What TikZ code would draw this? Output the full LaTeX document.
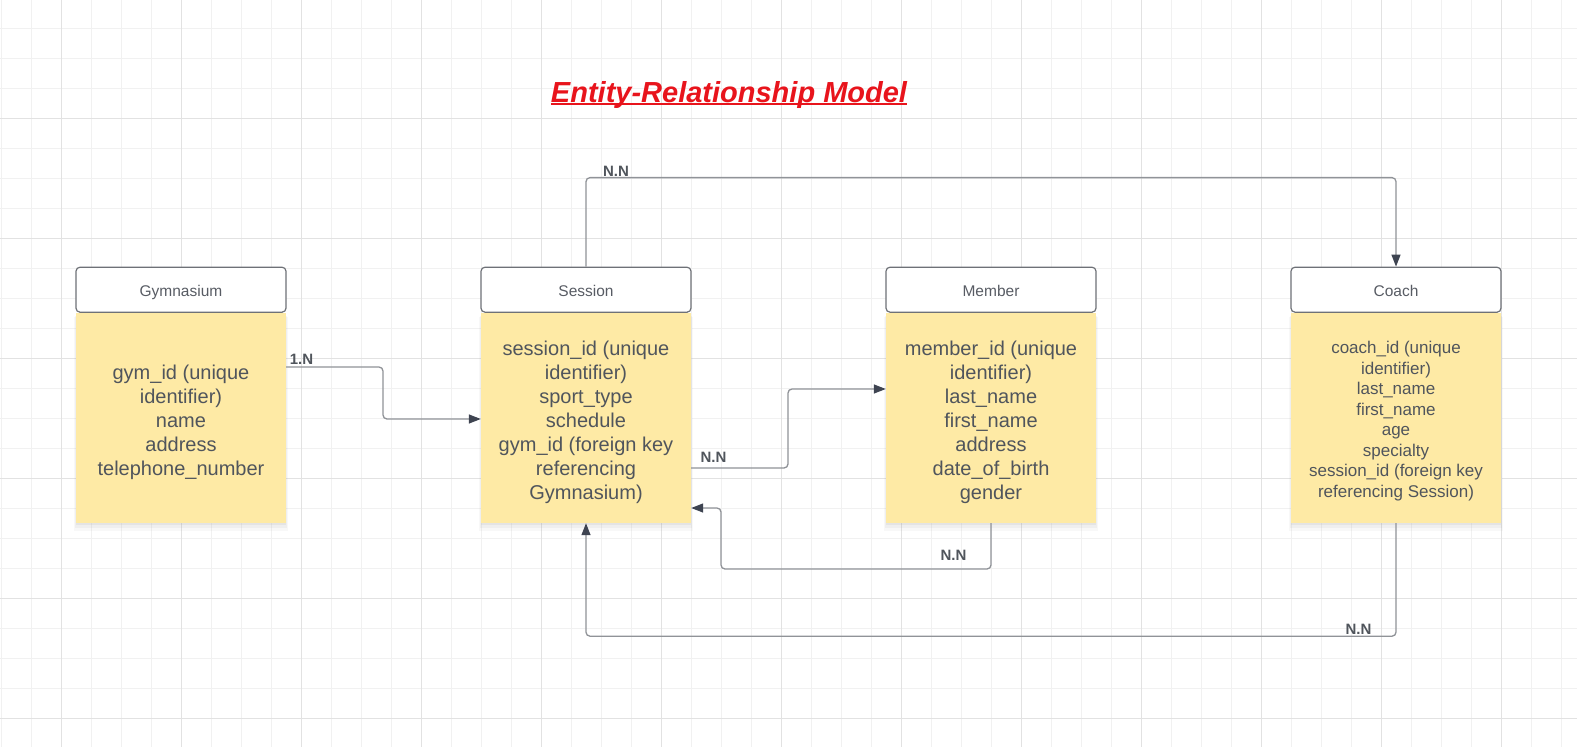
\documentclass[tikz,border=0pt]{standalone}
\usepackage{fontspec}
\setmainfont{Liberation Sans}
\usetikzlibrary{arrows.meta,positioning,shadows}
\definecolor{gridminor}{HTML}{F1F1F1}
\definecolor{gridmajor}{HTML}{E2E2E2}
\definecolor{notefill}{HTML}{FEEAA5}
\definecolor{notetext}{HTML}{50555C}
\definecolor{headline}{HTML}{6E7177}
\definecolor{headtext}{HTML}{585C64}
\definecolor{linkgray}{HTML}{909398}
\definecolor{tipdark}{HTML}{3E4451}
\definecolor{titlered}{HTML}{E8141C}
\tikzset{
  enthead/.style={draw=headline,line width=1.2pt,fill=white,rounded corners=4pt,
    minimum width=210pt,minimum height=45pt,inner sep=0pt,text=headtext,
    text height=13.5pt,text depth=0pt,font=\fontsize{15.5}{18}\selectfont},
  entbody/.style={fill=notefill,minimum width=210pt,minimum height=210pt,inner sep=0pt,
    drop shadow={shadow xshift=0pt,shadow yshift=-6pt,shadow scale=1.02,opacity=.05},
    drop shadow={shadow xshift=0pt,shadow yshift=-4pt,shadow scale=1.01,opacity=.07},
    drop shadow={shadow xshift=0pt,shadow yshift=-2pt,opacity=.09}},
  entattr/.style={align=center,inner sep=0pt,text=notetext,font=\fontsize{20}{24}\selectfont},
  link/.style={draw=linkgray,line width=1.3pt,rounded corners=4pt,
    -{Triangle[length=12pt,width=9pt,color=tipdark]}},
  lbl/.style={font=\bfseries\fontsize{15}{18}\selectfont,text=notetext,inner sep=0pt}
}
\begin{document}
\begin{tikzpicture}[x=1pt,y=-1pt]
\useasboundingbox (0,0) rectangle (1577,747);
\fill[white] (0,0) rectangle (1577,747);
\foreach \gx in {1,31,...,1561} \draw[gridminor,line width=1pt] (\gx,0) -- (\gx,747);
\foreach \gy in {28,58,...,718} \draw[gridminor,line width=1pt] (0,\gy) -- (1577,\gy);
\foreach \gx in {61,181,...,1501} \draw[gridmajor,line width=1pt] (\gx,0) -- (\gx,747);
\foreach \gy in {118,238,...,718} \draw[gridmajor,line width=1pt] (0,\gy) -- (1577,\gy);

\node[font=\bfseries\itshape\fontsize{29}{34}\selectfont,text=titlered,inner sep=0pt,anchor=base] (title) at (729,102) {Entity-Relationship Model};
\draw[titlered,line width=1.8pt] ([yshift=-2pt]title.base west) -- ([yshift=-2pt]title.base east);

\node[entbody] (gymbody) at (181,418) {};
\node[entattr] (gymattr) at ([yshift=-4pt]gymbody.center) {gym\_id (unique\\identifier)\\name\\address\\telephone\_number};
\node[enthead,above=0pt of gymbody] (gymhead) {Gymnasium};
\node[entbody] (sesbody) at (586,418) {};
\node[entattr] (sesattr) at ([yshift=-4pt]sesbody.center) {session\_id (unique\\identifier)\\sport\_type\\schedule\\gym\_id (foreign key\\referencing\\Gymnasium)};
\node[enthead,above=0pt of sesbody] (seshead) {Session};
\node[entbody] (membody) at (991,418) {};
\node[entattr] (memattr) at ([yshift=-4pt]membody.center) {member\_id (unique\\identifier)\\last\_name\\first\_name\\address\\date\_of\_birth\\gender};
\node[enthead,above=0pt of membody] (memhead) {Member};
\node[entbody] (coabody) at (1396,418) {};
\node[entattr,font=\fontsize{17}{20.5}\selectfont] (coaattr) at ([yshift=-3pt]coabody.center) {coach\_id (unique\\identifier)\\last\_name\\first\_name\\age\\specialty\\session\_id (foreign key\\referencing Session)};
\node[enthead,above=0pt of coabody] (coahead) {Coach};

\draw[link] (gymbody.east |- 0,367) -| (383,419) -- (sesbody.west |- 0,419);
\draw[link] (sesbody.east |- 0,468) -| (788,389) -- (membody.west |- 0,389);
\draw[link] (membody.south -| 991,0) -- (991,569) -| (721,508) -- (sesbody.east |- 0,508);
\draw[link] (seshead.north) -- ++(0,-89) -| (coahead.north);
\draw[link] (coabody.south) -- ++(0,113) -| (sesbody.south);

\node[lbl] (lgymses) at (301.5,359) {1.N};
\node[lbl] (lsesmem) at (713.5,457) {N.N};
\node[lbl] (lmemses) at (953.5,555) {N.N};
\node[lbl] (lsescoa) at (616,171) {N.N};
\node[lbl] (lcoases) at (1358.5,629) {N.N};
\end{tikzpicture}
\end{document}
